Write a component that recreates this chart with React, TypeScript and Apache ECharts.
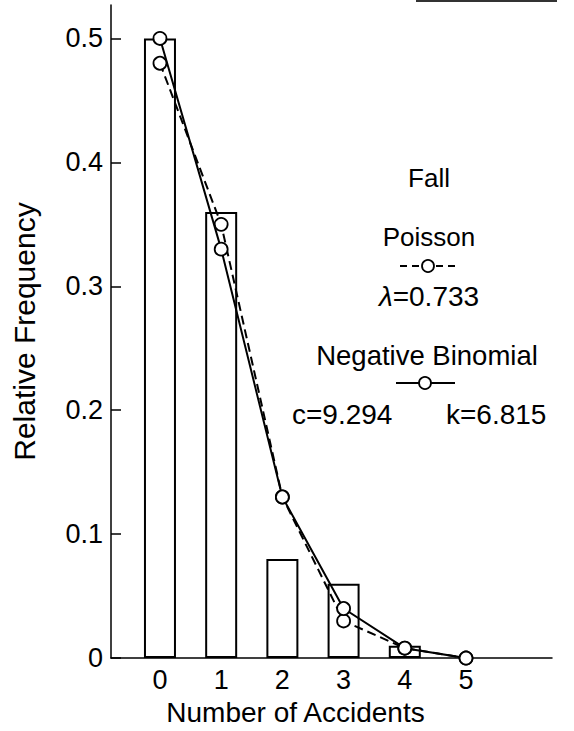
import React, { useEffect, useRef } from "react";
import * as echarts from "echarts";

const xTicks = [0, 1, 2, 3, 4, 5];
const yTicks = [0, 0.1, 0.2, 0.3, 0.4, 0.5];
const barCounts = [0, 1, 2, 3, 4];
const observed = [0.5, 0.36, 0.08, 0.06, 0.01];
const poisson = [0.48, 0.35, 0.13, 0.03, 0.008, 0.0];
const negBinomial = [0.5, 0.33, 0.13, 0.04, 0.008, 0.0];

const FONT = "Liberation Sans, Arial, Helvetica, sans-serif";
const INK = "#000";

export default function App() {
  const ref = useRef<HTMLDivElement>(null);

  useEffect(() => {
    if (!ref.current) return;
    const chart = echarts.init(ref.current, null, { renderer: "svg" });

    const legendText = (text: string, x: number, y: number, size = 26, align = "center") => ({
      type: "text",
      x,
      y,
      z: 10,
      style: {
        text,
        fill: INK,
        fontSize: size,
        fontFamily: FONT,
        align,
        verticalAlign: "middle",
      },
    });

    const sample = (x1: number, x2: number, cx: number, y: number, dashed: boolean) => [
      {
        type: "line",
        z: 10,
        shape: { x1, y1: y, x2, y2: y },
        style: { stroke: INK, lineWidth: 2, lineDash: dashed ? [7, 5] : null },
      },
      {
        type: "circle",
        z: 11,
        shape: { cx, cy: y, r: 6 },
        style: { fill: "#fff", stroke: INK, lineWidth: 1.8 },
      },
    ];

    chart.setOption({
      animation: false,
      backgroundColor: "#fff",
      textStyle: { fontFamily: FONT, color: INK },
      grid: { left: 111, right: 22, top: 5, bottom: 70, containLabel: false },
      xAxis: {
        type: "value",
        min: -0.8,
        max: 6.405,
        name: "Number of Accidents",
        nameLocation: "middle",
        nameGap: 30,
        nameTextStyle: {
          fontSize: 28,
          fontFamily: FONT,
          color: INK,
          padding: [0, 72, 0, 0],
          verticalAlign: "top",
        },
        axisLine: { show: true, onZero: false, lineStyle: { color: INK, width: 1.5 } },
        axisTick: { show: false },
        splitLine: { show: false },
        axisLabel: {
          customValues: xTicks,
          fontSize: 27,
          fontFamily: FONT,
          color: INK,
          margin: 8,
          formatter: (v: number) => String(v),
        },
      },
      yAxis: {
        type: "value",
        min: 0,
        max: 0.527,
        name: "Relative Frequency",
        nameLocation: "middle",
        nameGap: 72,
        nameRotate: 90,
        nameTextStyle: { fontSize: 30, fontFamily: FONT, color: INK },
        axisLine: { show: true, onZero: false, lineStyle: { color: INK, width: 1.5 } },
        axisTick: {
          show: true,
          inside: true,
          length: 10,
          customValues: yTicks,
          lineStyle: { color: INK, width: 1.5 },
        },
        splitLine: { show: false },
        axisLabel: {
          customValues: yTicks,
          fontSize: 27,
          fontFamily: FONT,
          color: INK,
          margin: 8,
          formatter: (v: number) => (v === 0 ? "0" : v.toFixed(1)),
        },
      },
      series: [
        {
          name: "Observed",
          type: "bar",
          data: barCounts.map((c, i) => [c, observed[i]]),
          barWidth: 32,
          z: 1,
          itemStyle: { color: "#fff", borderColor: INK, borderWidth: 2 },
        },
        {
          name: "Poisson",
          type: "line",
          data: xTicks.map((c, i) => [c, poisson[i]]),
          symbol: "circle",
          symbolSize: 13,
          z: 3,
          lineStyle: { color: INK, width: 2, type: [9, 5] },
          itemStyle: { color: "#fff", borderColor: INK, borderWidth: 1.8 },
        },
        {
          name: "Negative Binomial",
          type: "line",
          data: xTicks.map((c, i) => [c, negBinomial[i]]),
          symbol: "circle",
          symbolSize: 13,
          z: 4,
          lineStyle: { color: INK, width: 2 },
          itemStyle: { color: "#fff", borderColor: INK, borderWidth: 1.8 },
        },
      ],
      graphic: [
        {
          type: "line",
          shape: { x1: 416, y1: 1, x2: 557, y2: 1 },
          style: { stroke: "#333", lineWidth: 2 },
        },
        legendText("Fall", 429, 178),
        legendText("Poisson", 429, 237),
        ...sample(400, 457, 428, 266, true),
        {
          type: "text",
          x: 429,
          y: 296,
          z: 10,
          style: {
            text: "{i|λ}=0.733",
            fill: INK,
            fontSize: 28,
            fontFamily: FONT,
            align: "center",
            verticalAlign: "middle",
            rich: {
              i: { fontStyle: "italic", fontSize: 28, fontFamily: FONT, fill: INK },
            },
          },
        },
        legendText("Negative Binomial", 427, 355, 27.5),
        ...sample(396, 455, 425, 383, false),
        legendText("c=9.294", 292, 414, 28, "left"),
        legendText("k=6.815", 446, 414, 28, "left"),
      ],
    });

    return () => chart.dispose();
  }, []);

  return (
    <div
      ref={ref}
      style={{ position: "absolute", left: 0, top: 0, width: 574, height: 731 }}
    />
  );
}
